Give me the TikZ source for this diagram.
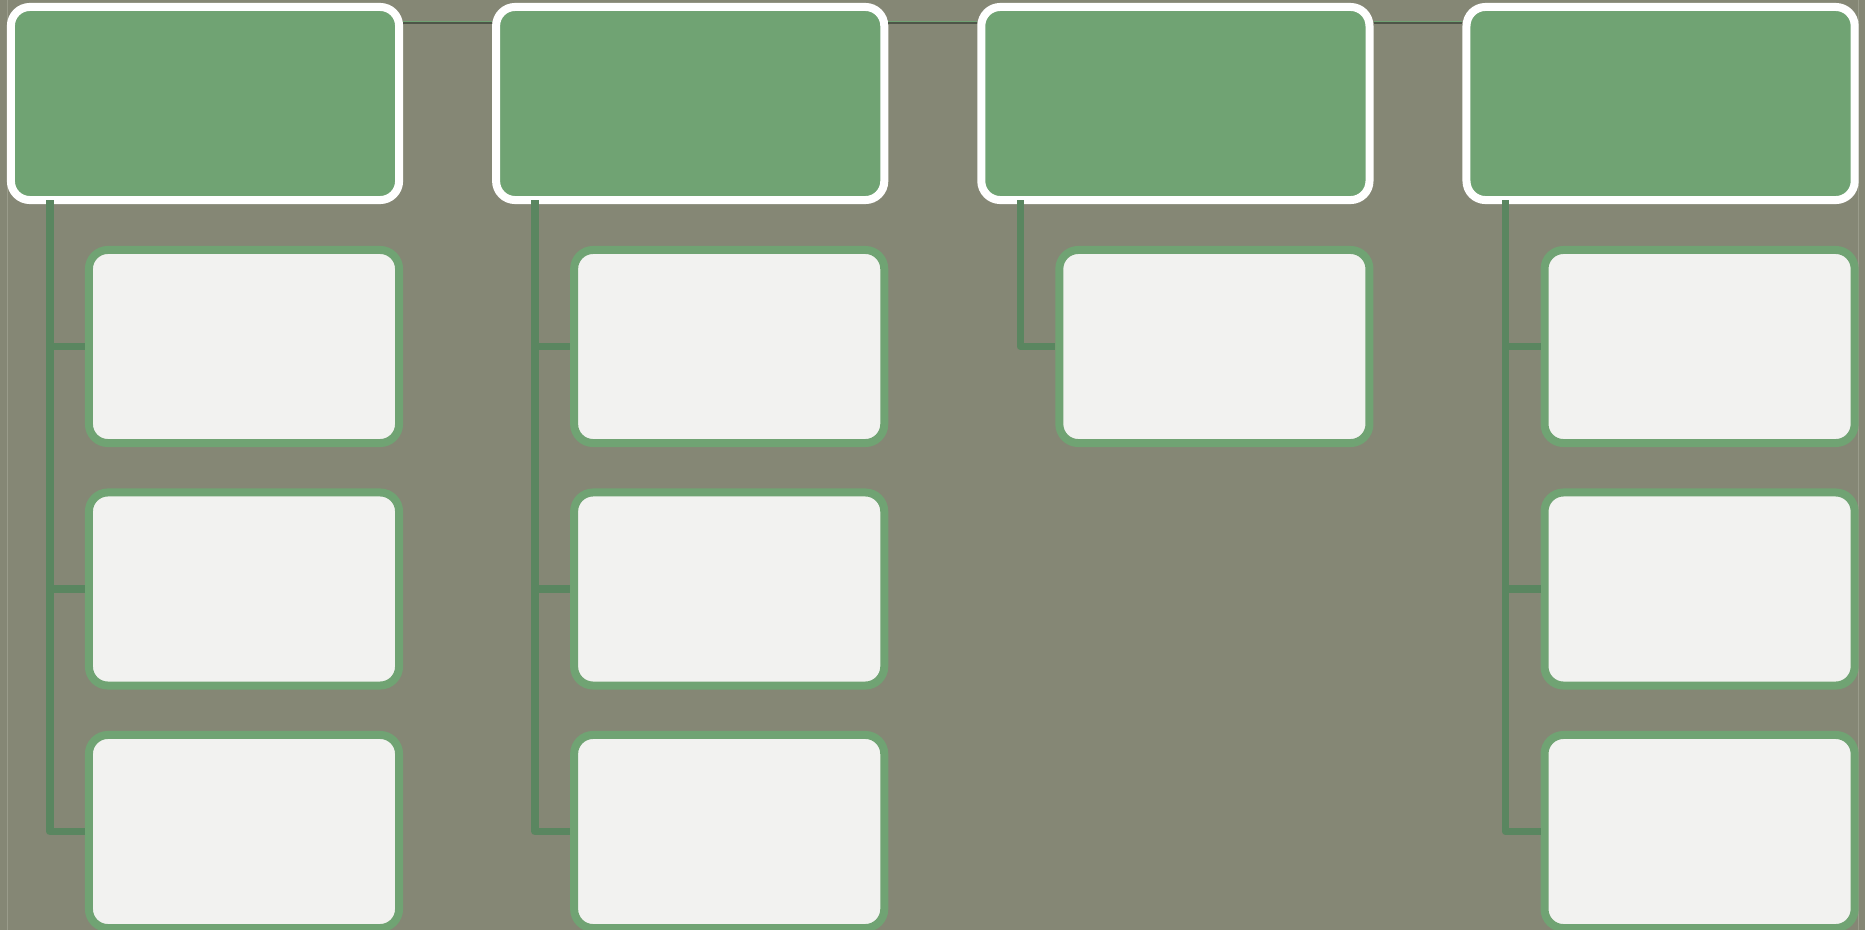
\documentclass[tikz,border=0pt]{standalone}
\usepackage{tikz}
\usetikzlibrary{calc,positioning}
\usepackage{xcolor}
\definecolor{bgolive}{HTML}{858775}
\definecolor{rimgray}{HTML}{9A9C8B}
\definecolor{hdrgreen}{HTML}{70A373}
\definecolor{subfill}{HTML}{F2F2F0}
\definecolor{linkgreen}{HTML}{5A8660}
\definecolor{shadowgray}{HTML}{4E5548}

\begin{document}
\begin{tikzpicture}[x=0.01cm,y=-0.01cm,
  hdr/.style={draw=white,fill=hdrgreen,line width=0.08cm,rounded corners=0.19cm,
    minimum width=3.88cm,minimum height=1.93cm,inner sep=0pt},
  sub/.style={draw=hdrgreen,fill=subfill,line width=0.08cm,rounded corners=0.19cm,
    minimum width=3.10cm,minimum height=1.93cm,inner sep=0pt},
  link/.style={draw=linkgreen,line width=0.075cm,line join=round},
  rail/.style={draw=shadowgray,line width=0.025cm},
  railhi/.style={draw=hdrgreen,line width=0.01cm}]
  \useasboundingbox (0,0) rectangle (1865,930);
  \fill[bgolive] (0,0) rectangle (1865,930);
  \draw[rimgray,line width=0.01cm] (7,0) -- (7,930);
  \draw[rimgray,line width=0.01cm] (1858,0) -- (1858,930);

  \node[hdr] (hdrA) at (205,103.5) {};
  \node[hdr] (hdrB) at (690.2,103.5) {};
  \node[hdr] (hdrC) at (1175.4,103.5) {};
  \node[hdr] (hdrD) at (1660.6,103.5) {};

  \node[sub] (subA1) at (244,346.5) {};
  \node[sub] (subA2) at (244,589) {};
  \node[sub] (subA3) at (244,831.5) {};
  \node[sub] (subB1) at (729.2,346.5) {};
  \node[sub] (subB2) at (729.2,589) {};
  \node[sub] (subB3) at (729.2,831.5) {};
  \node[sub] (subC1) at (1214.4,346.5) {};
  \node[sub] (subD1) at (1699.6,346.5) {};
  \node[sub] (subD2) at (1699.6,589) {};
  \node[sub] (subD3) at (1699.6,831.5) {};

  \draw[rail] ($(hdrA.north east)+(0,19.6)$) -- ($(hdrB.north west)+(0,19.6)$);
  \draw[rail] ($(hdrB.north east)+(0,19.6)$) -- ($(hdrC.north west)+(0,19.6)$);
  \draw[rail] ($(hdrC.north east)+(0,19.6)$) -- ($(hdrD.north west)+(0,19.6)$);
  \draw[railhi] ($(hdrA.north east)+(0,18.2)$) -- ($(hdrB.north west)+(0,18.2)$);
  \draw[railhi] ($(hdrB.north east)+(0,18.2)$) -- ($(hdrC.north west)+(0,18.2)$);
  \draw[railhi] ($(hdrC.north east)+(0,18.2)$) -- ($(hdrD.north west)+(0,18.2)$);

  \draw[link] ($(hdrA.south west)+(43,-4)$) |- (subA1.west);
  \draw[link] ($(hdrA.south west)+(43,-4)$) |- (subA2.west);
  \draw[link] ($(hdrA.south west)+(43,-4)$) |- (subA3.west);
  \draw[link] ($(hdrB.south west)+(43,-4)$) |- (subB1.west);
  \draw[link] ($(hdrB.south west)+(43,-4)$) |- (subB2.west);
  \draw[link] ($(hdrB.south west)+(43,-4)$) |- (subB3.west);
  \draw[link] ($(hdrC.south west)+(43,-4)$) |- (subC1.west);
  \draw[link] ($(hdrD.south west)+(43,-4)$) |- (subD1.west);
  \draw[link] ($(hdrD.south west)+(43,-4)$) |- (subD2.west);
  \draw[link] ($(hdrD.south west)+(43,-4)$) |- (subD3.west);
\end{tikzpicture}
\end{document}
